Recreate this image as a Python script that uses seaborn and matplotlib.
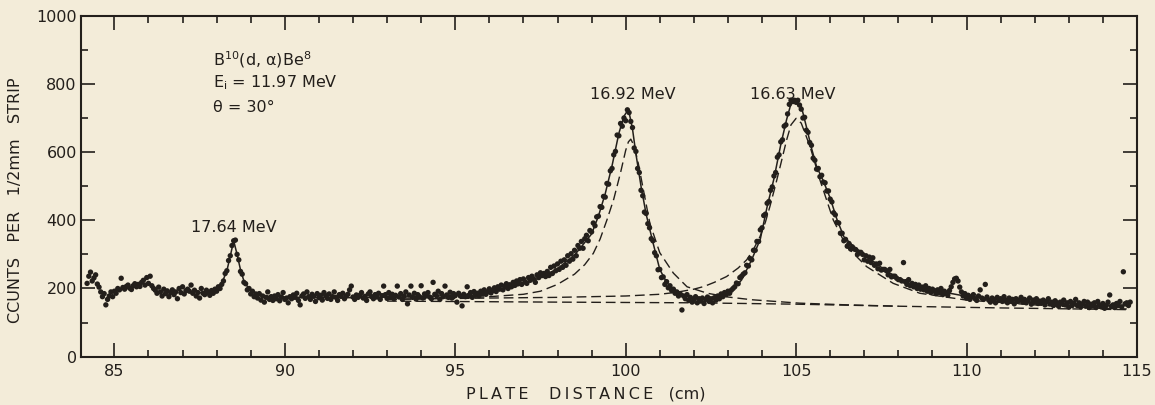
import numpy as np
import pandas as pd
import matplotlib
matplotlib.use("Agg")
import matplotlib.pyplot as plt
import seaborn as sns
from matplotlib.ticker import MultipleLocator

# Strip positions along the plate (cm), one every 1/2 mm
plate_cm = np.arange(8420, 11481, 5) / 100.0

# Counts per 1/2 mm strip, ten strips per row (each row covers 0.5 cm)
counts = [
    215, 236, 248, 222, 231, 240, 213, 204, 190, 176,   # 84.20
    185, 152, 168, 178, 190, 176, 192, 186, 200, 196,   # 84.70
    230, 203, 198, 206, 210, 201, 197, 208, 214, 205,   # 85.20
    212, 206, 218, 224, 210, 232, 215, 236, 208, 200,   # 85.70
    195, 186, 204, 190, 178, 198, 185, 193, 176, 188,   # 86.20
    196, 182, 190, 170, 200, 188, 205, 184, 194, 198,   # 86.70
    192, 210, 186, 195, 178, 188, 172, 200, 186, 182,   # 87.20
    195, 188, 180, 194, 186, 198, 192, 205, 200, 212,   # 87.70
    222, 244, 252, 282, 296, 326, 340, 342, 300, 284,   # 88.20
    250, 242, 218, 214, 196, 200, 184, 192, 176, 184,   # 88.70
    172, 185, 166, 178, 160, 174, 190, 168, 176, 165,   # 89.20
    178, 170, 182, 164, 175, 188, 168, 172, 158, 176,   # 89.70
    170, 181, 174, 186, 165, 152, 178, 184, 171, 190,   # 90.20
    176, 168, 183, 177, 162, 185, 173, 180, 166, 188,   # 90.70
    179, 171, 184, 168, 176, 190, 174, 165, 182, 177,   # 91.20
    186, 170, 178, 183, 196, 207, 175, 168, 181, 174,   # 91.70
    180, 188, 172, 177, 165, 184, 190, 176, 170, 182,   # 92.20
    175, 186, 168, 179, 207, 182, 171, 188, 176, 183,   # 92.70
    170, 180, 207, 175, 185, 168, 178, 190, 155, 181,   # 93.20
    207, 174, 186, 169, 182, 176, 208, 172, 184, 178,   # 93.70
    188, 175, 170, 218, 183, 179, 192, 168, 185, 176,   # 94.20
    207, 181, 174, 189, 172, 185, 179, 160, 186, 178,   # 94.70
    149, 183, 176, 205, 180, 188, 174, 191, 182, 186,   # 95.20
    179, 192, 185, 196, 183, 190, 199, 187, 194, 202,   # 95.70
    191, 205, 198, 210, 196, 207, 214, 200, 211, 205,   # 96.20
    218, 209, 222, 214, 226, 212, 228, 220, 215, 232,   # 96.70
    224, 236, 228, 218, 240, 232, 246, 238, 244, 235,   # 97.20
    250, 238, 262, 244, 266, 252, 272, 256, 280, 262,   # 97.70
    284, 268, 296, 280, 302, 286, 312, 296, 326, 318,   # 98.20
    338, 318, 346, 356, 340, 370, 366, 392, 384, 410,   # 98.70
    412, 440, 438, 470, 468, 508, 506, 545, 552, 592,   # 99.20
    602, 650, 648, 684, 676, 700, 692, 724, 716, 690,   # 99.70
    672, 612, 602, 552, 540, 488, 472, 424, 420, 390,   # 100.20
    378, 346, 340, 305, 296, 255, 256, 232, 234, 212,   # 100.70
    220, 202, 208, 194, 198, 186, 190, 178, 184, 137,   # 101.20
    178, 170, 182, 165, 174, 160, 168, 176, 158, 170,   # 101.70
    164, 172, 156, 168, 175, 162, 170, 158, 173, 166,   # 102.20
    178, 170, 184, 176, 188, 182, 192, 186, 195, 200,   # 102.70
    205, 216, 214, 232, 236, 242, 246, 268, 266, 288,   # 103.20
    284, 312, 312, 338, 338, 372, 378, 414, 418, 450,   # 103.70
    455, 488, 498, 530, 540, 585, 592, 630, 636, 676,   # 104.20
    680, 712, 740, 752, 748, 752, 746, 752, 738, 726,   # 104.70
    700, 702, 664, 658, 628, 620, 582, 576, 550, 552,   # 105.20
    528, 532, 512, 510, 486, 486, 462, 454, 422, 416,   # 105.70
    394, 392, 362, 362, 340, 344, 324, 332, 316, 322,   # 106.20
    316, 314, 300, 306, 306, 300, 284, 296, 280, 292,   # 106.70
    276, 290, 268, 272, 258, 274, 254, 256, 256, 252,   # 107.20
    240, 256, 234, 236, 236, 230, 226, 226, 222, 276,   # 107.70
    220, 212, 226, 208, 215, 205, 212, 200, 210, 198,   # 108.20
    204, 196, 208, 192, 200, 188, 198, 194, 185, 196,   # 108.70
    188, 200, 182, 192, 186, 180, 194, 205, 218, 228,   # 109.20
    230, 222, 204, 190, 178, 185, 172, 180, 168, 176,   # 109.70
    182, 170, 165, 178, 196, 172, 168, 212, 175, 166,   # 110.20
    160, 172, 168, 158, 174, 165, 170, 162, 176, 166,   # 110.70
    158, 172, 164, 168, 155, 170, 162, 166, 174, 160,   # 111.20
    168, 158, 164, 172, 154, 166, 160, 170, 156, 163,   # 111.70
    158, 166, 152, 162, 170, 155, 160, 150, 164, 158,   # 112.20
    148, 160, 155, 166, 152, 158, 145, 162, 150, 156,   # 112.70
    168, 150, 158, 146, 155, 162, 148, 160, 144, 154,   # 113.20
    150, 158, 144, 162, 152, 146, 156, 142, 150, 160,   # 113.70
    181, 148, 152, 144, 156, 150, 162, 146, 249, 155,   # 114.20
    158, 150, 160,                                      # 114.70
]

# Full fitted spectrum (solid curve)
fit_cm = [87.5, 87.8, 88.0, 88.15, 88.3, 88.4, 88.5, 88.6, 88.7, 88.8, 88.95,
          89.2, 89.6, 90.5, 92.0, 93.5, 94.5, 95.5, 96.0, 96.5, 97.0, 97.5,
          98.0, 98.5, 98.8, 99.0, 99.2, 99.4, 99.6, 99.8, 99.95, 100.08,
          100.2, 100.3, 100.45, 100.6, 100.8, 101.0, 101.2, 101.4, 101.7,
          102.0, 102.4, 102.8, 103.1, 103.4, 103.7, 103.95, 104.15, 104.35,
          104.55, 104.72, 104.85, 105.0, 105.15, 105.3, 105.45, 105.6, 105.8,
          106.0, 106.2, 106.4, 106.7, 107.1, 107.5, 107.9, 108.4, 108.9,
          109.4, 110.0, 110.8, 111.6, 112.5, 113.5, 114.8]
fit_counts = [188, 192, 200, 215, 252, 295, 340, 300, 255, 222, 198,
              182, 176, 174, 173, 175, 178, 184, 190, 200, 213, 232,
              258, 298, 335, 360, 412, 478, 560, 655, 705, 726,
              668, 595, 500, 418, 335, 256, 218, 198, 182,
              170, 166, 177, 192, 225, 285, 345, 440, 522,
              622, 695, 742, 752, 735, 675, 612, 558, 515,
              465, 402, 352, 322, 292, 262, 236, 212, 198,
              188, 177, 168, 162, 157, 152, 150]

# Smooth background under the two broad levels (dashed)
bg_cm = [93.0, 98.0, 102.0, 105.0, 108.0, 111.0, 114.7]
bg_counts = [163, 160, 158, 154, 148, 143, 138]

# 16.92 MeV level alone on the background (dashed)
lvl1692_cm = [93.0, 95.0, 96.0, 97.0, 97.5, 98.0, 98.5, 98.8, 99.05, 99.25,
              99.45, 99.65, 99.85, 100.0, 100.08, 100.15, 100.25, 100.37,
              100.52, 100.71, 101.0, 101.4, 101.8, 102.4, 103.0, 103.7,
              105.1, 106.5, 108.0]
lvl1692_counts = [168, 172, 176, 183, 192, 212, 242, 270, 303, 345,
                  401, 462, 540, 605, 630, 638, 618, 567,
                  489, 391, 305, 245, 205, 186, 175, 167,
                  157, 152, 148]

# 16.63 MeV level alone on the background (dashed)
lvl1663_cm = [93.0, 96.0, 98.0, 100.0, 101.0, 101.5, 102.0, 102.3, 102.6,
              102.96, 103.3, 103.55, 103.75, 103.94, 104.1, 104.23, 104.4,
              104.53, 104.72, 104.85, 105.0, 105.15, 105.41, 105.7, 106.09,
              106.48, 107.07, 107.85, 108.63, 110.0, 111.96, 113.91, 114.7]
lvl1663_counts = [168, 172, 174, 178, 183, 189, 198, 206, 218,
                  235, 260, 284, 315, 352, 395, 440, 505,
                  557, 635, 680, 699, 685, 616, 518, 401,
                  323, 264, 215, 186, 166, 152, 142, 140]

x_ticks = [85, 90, 95, 100, 105, 110, 115]
y_ticks = [0, 200, 400, 600, 800, 1000]

PAPER = "#f3ecd9"
INK = "#231f1b"

sns.set_theme(style="ticks", rc={
    "axes.facecolor": PAPER,
    "figure.facecolor": PAPER,
    "axes.edgecolor": INK,
    "axes.labelcolor": INK,
    "xtick.color": INK,
    "ytick.color": INK,
    "text.color": INK,
})
plt.rcParams["font.family"] = ["DejaVu Sans"]
plt.rcParams["mathtext.default"] = "regular"
plt.rcParams["lines.scale_dashes"] = False


def spaced(word):
    """Letter-spaced lettering, thin spaces between characters."""
    return "\u2009".join(word)


fig = plt.figure(figsize=(11.55, 4.05), dpi=100)
ax = fig.add_axes([0.0701, 0.1193, 0.9143, 0.8419])

spectrum = pd.DataFrame({"cm": plate_cm, "counts": counts})
sns.scatterplot(data=spectrum, x="cm", y="counts", s=15, color=INK,
                edgecolor="none", linewidth=0, ax=ax, zorder=3)

dash = (0, (7, 3.5))
for xs, ys in [(bg_cm, bg_counts), (lvl1692_cm, lvl1692_counts),
               (lvl1663_cm, lvl1663_counts)]:
    sns.lineplot(x=xs, y=ys, color=INK, lw=1.0, linestyle=dash,
                 estimator=None, sort=False, ax=ax, zorder=2)
sns.lineplot(x=fit_cm, y=fit_counts, color=INK, lw=1.1,
             estimator=None, sort=False, ax=ax, zorder=2)

ax.set_xlim(84.02, 115.0)
ax.set_ylim(0, 1000)
ax.set_xticks(x_ticks)
ax.set_yticks(y_ticks)
ax.xaxis.set_minor_locator(MultipleLocator(1))
ax.yaxis.set_minor_locator(MultipleLocator(100))
ax.tick_params(which="both", direction="in", top=True, right=True,
               width=1.2, labelsize=11.5, colors=INK)
ax.tick_params(which="major", length=10)
ax.tick_params(which="minor", length=5)
ax.tick_params(axis="x", pad=5)
ax.tick_params(axis="y", pad=3)
for sp in ax.spines.values():
    sp.set_linewidth(1.5)
    sp.set_color(INK)

ax.set_xlabel(spaced("PLATE") + "    " + spaced("DISTANCE") + "   (cm)",
              fontsize=11.5)
ax.xaxis.set_label_coords(0.478, -0.086)
ax.set_ylabel("CCUNTS   PER   1/2mm   STRIP", fontsize=11.5)
ax.yaxis.set_label_coords(-0.055, 0.46)

# Reaction and kinematics
ax.text(0.125, 0.855, "B$^{10}$(d, α)Be$^{8}$", transform=ax.transAxes,
        fontsize=11.5, ha="left", va="baseline")
ax.text(0.125, 0.79, "E$_{i}$ = 11.97 MeV", transform=ax.transAxes,
        fontsize=11.5, ha="left", va="baseline")
ax.text(0.125, 0.718, "θ = 30°", transform=ax.transAxes,
        fontsize=11.5, ha="left", va="baseline")

# Level energies above their peaks
ax.text(88.5, 378, "17.64 MeV", fontsize=11.5, ha="center", va="center")
ax.text(100.2, 770, "16.92 MeV", fontsize=11.5, ha="center", va="center")
ax.text(104.9, 770, "16.63 MeV", fontsize=11.5, ha="center", va="center")

fig.savefig("out.png", dpi=100, facecolor=PAPER)
